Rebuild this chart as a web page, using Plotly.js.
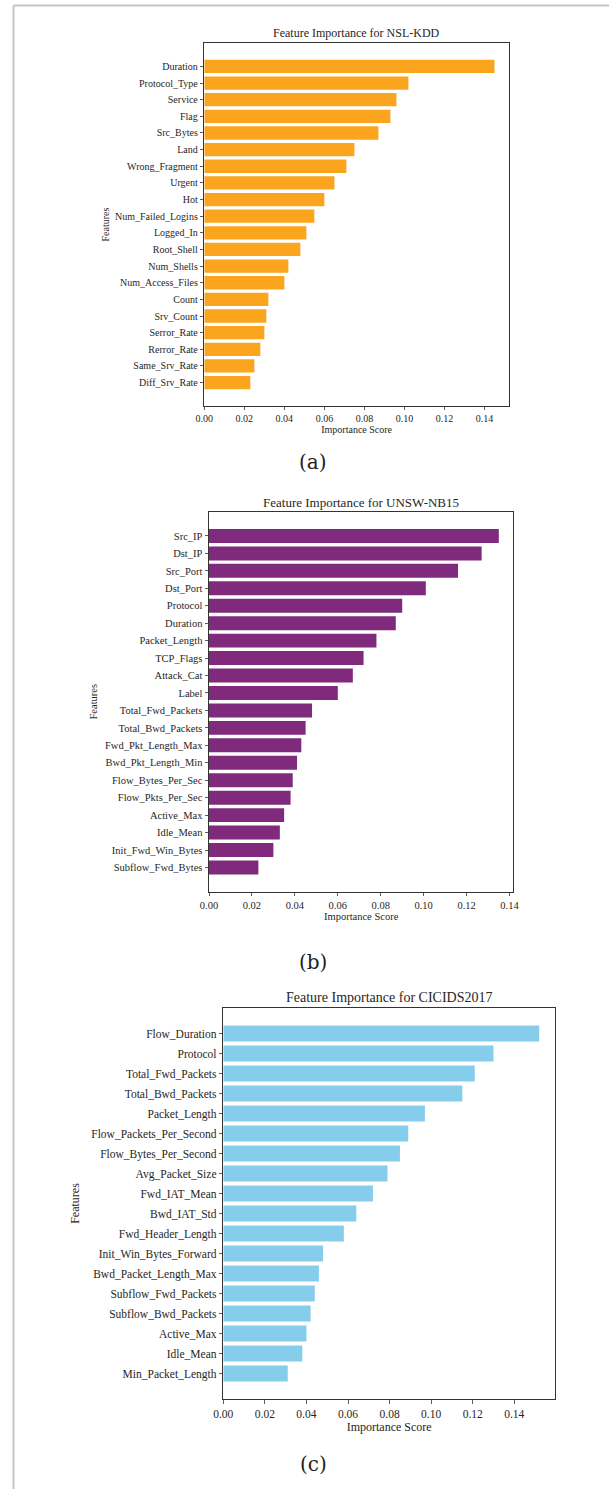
<!DOCTYPE html>
<html>
<head>
<meta charset="utf-8">
<script src="https://cdn.plot.ly/plotly-3.0.1.min.js"></script>
<style>
  html, body { margin: 0; padding: 0; background: #ffffff; }
  #chart { width: 609px; height: 1489px; }
</style>
</head>
<body>
<div id="chart"></div>
<script>
// ---------- Data ----------
const nslFeatures = ["Duration", "Protocol_Type", "Service", "Flag", "Src_Bytes", "Land",
  "Wrong_Fragment", "Urgent", "Hot", "Num_Failed_Logins", "Logged_In", "Root_Shell",
  "Num_Shells", "Num_Access_Files", "Count", "Srv_Count", "Serror_Rate", "Rerror_Rate",
  "Same_Srv_Rate", "Diff_Srv_Rate"];
const nslScores = [0.145, 0.102, 0.096, 0.093, 0.087, 0.075, 0.071, 0.065, 0.060, 0.055,
  0.051, 0.048, 0.042, 0.040, 0.032, 0.031, 0.030, 0.028, 0.025, 0.023];

const unswFeatures = ["Src_IP", "Dst_IP", "Src_Port", "Dst_Port", "Protocol", "Duration",
  "Packet_Length", "TCP_Flags", "Attack_Cat", "Label", "Total_Fwd_Packets",
  "Total_Bwd_Packets", "Fwd_Pkt_Length_Max", "Bwd_Pkt_Length_Min", "Flow_Bytes_Per_Sec",
  "Flow_Pkts_Per_Sec", "Active_Max", "Idle_Mean", "Init_Fwd_Win_Bytes", "Subflow_Fwd_Bytes"];
const unswScores = [0.135, 0.127, 0.116, 0.101, 0.090, 0.087, 0.078, 0.072, 0.067, 0.060,
  0.048, 0.045, 0.043, 0.041, 0.039, 0.038, 0.035, 0.033, 0.030, 0.023];

const cicFeatures = ["Flow_Duration", "Protocol", "Total_Fwd_Packets", "Total_Bwd_Packets",
  "Packet_Length", "Flow_Packets_Per_Second", "Flow_Bytes_Per_Second", "Avg_Packet_Size",
  "Fwd_IAT_Mean", "Bwd_IAT_Std", "Fwd_Header_Length", "Init_Win_Bytes_Forward",
  "Bwd_Packet_Length_Max", "Subflow_Fwd_Packets", "Subflow_Bwd_Packets", "Active_Max",
  "Idle_Mean", "Min_Packet_Length"];
const cicScores = [0.152, 0.130, 0.121, 0.115, 0.097, 0.089, 0.085, 0.079, 0.072, 0.064,
  0.058, 0.048, 0.046, 0.044, 0.042, 0.040, 0.038, 0.031];

const panelTitles = ["Feature Importance for NSL-KDD", "Feature Importance for UNSW-NB15",
  "Feature Importance for CICIDS2017"];
const panelLabels = ["(a)", "(b)", "(c)"];
const xTitle = "Importance Score";
const yTitle = "Features";

// ---------- Layout helpers ----------
const W = 609, H = 1489;
const px = v => v / W;
const py = v => 1 - v / H;
const SERIF = "Liberation Serif, Times New Roman, serif";
const TXT = "#262626";
const AX = "#333333";

const panels = [
  { feats: nslFeatures, vals: nslScores, color: "#fba51f",
    box: [204.3, 509, 43.3, 405.7], tick: 10, lab: 10, title: 12,
    titleY: 33, labelY: 462, yStand: 3, xStand: 1 },
  { feats: unswFeatures, vals: unswScores, color: "#7f2a7c",
    box: [209, 513.3, 511.7, 891.7], tick: 10.5, lab: 10.5, title: 13,
    titleY: 502, labelY: 962, yStand: 5, xStand: 1 },
  { feats: cicFeatures, vals: cicScores, color: "#85cdeb",
    box: [223.3, 555, 1007.7, 1399.3], tick: 11.5, lab: 12, title: 14,
    titleY: 997, labelY: 1464, yStand: 9, xStand: 1 }
];

const data = [];
const layout = {
  width: W, height: H,
  margin: { l: 0, r: 0, t: 0, b: 0 },
  paper_bgcolor: "#ffffff", plot_bgcolor: "#ffffff",
  showlegend: false,
  font: { family: SERIF, color: TXT },
  annotations: [],
  shapes: [
    { type: "line", xref: "paper", yref: "paper", x0: px(13.5), x1: 1, y0: py(5.5), y1: py(5.5),
      line: { color: "#c4c4c4", width: 2 } },
    { type: "line", xref: "paper", yref: "paper", x0: px(13.5), x1: px(13.5), y0: py(5.5), y1: 0,
      line: { color: "#c4c4c4", width: 2 } }
  ]
};

panels.forEach((p, i) => {
  const s = i === 0 ? "" : String(i + 1);
  const n = p.feats.length;
  data.push({
    type: "bar", orientation: "h",
    x: p.vals, y: p.feats,
    xaxis: "x" + s, yaxis: "y" + s,
    width: 0.8,
    marker: { color: p.color, line: { width: 0 } },
    hoverinfo: "x+y"
  });
  const maxV = Math.max(...p.vals);
  const pad = 0.05 * (n - 1 + 0.8);
  layout["xaxis" + s] = {
    domain: [px(p.box[0]), px(p.box[1])],
    anchor: "y" + s,
    range: [0, maxV * 1.05],
    tick0: 0, dtick: 0.02, tickformat: ".2f",
    ticks: "outside", ticklen: 3.5, tickwidth: 0.8, tickcolor: AX,
    showline: true, mirror: true, linecolor: AX, linewidth: 1,
    showgrid: false, zeroline: false,
    tickfont: { family: SERIF, size: p.tick, color: TXT },
    title: { text: xTitle, font: { family: SERIF, size: p.lab, color: TXT }, standoff: p.xStand },
    fixedrange: true
  };
  layout["yaxis" + s] = {
    domain: [py(p.box[3]), py(p.box[2])],
    anchor: "x" + s,
    type: "category",
    range: [n - 1 + 0.4 + pad, -0.4 - pad],
    ticks: "outside", ticklen: 3.5, tickwidth: 0.8, tickcolor: AX,
    showline: true, mirror: true, linecolor: AX, linewidth: 1,
    showgrid: false, zeroline: false,
    tickfont: { family: SERIF, size: p.tick, color: TXT },
    title: { text: yTitle, font: { family: SERIF, size: p.lab, color: TXT }, standoff: p.yStand },
    fixedrange: true
  };
  layout.annotations.push({
    text: panelTitles[i], xref: "paper", yref: "paper",
    x: px((p.box[0] + p.box[1]) / 2), y: py(p.titleY),
    xanchor: "center", yanchor: "middle", showarrow: false,
    font: { family: SERIF, size: p.title, color: TXT }
  });
  layout.annotations.push({
    text: panelLabels[i], xref: "paper", yref: "paper",
    x: px(313), y: py(p.labelY),
    xanchor: "center", yanchor: "middle", showarrow: false,
    font: { family: "DejaVu Serif, serif", size: 20, color: "#222222" }
  });
});

Plotly.newPlot("chart", data, layout, { staticPlot: true, displayModeBar: false });
</script>
</body>
</html>
